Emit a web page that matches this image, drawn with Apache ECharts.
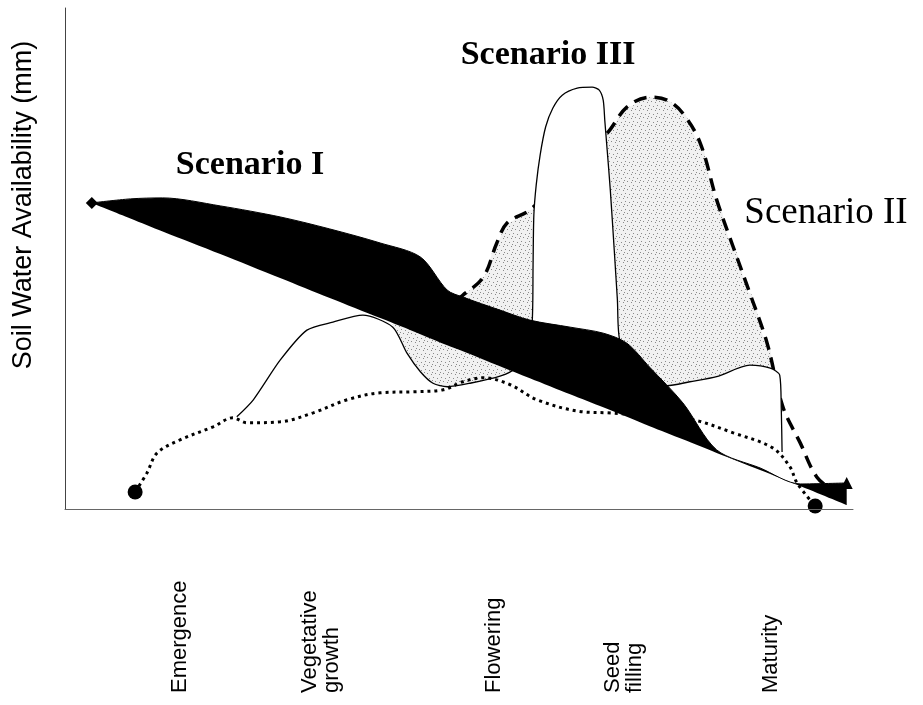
<!DOCTYPE html>
<html>
<head>
<meta charset="utf-8">
<script src="https://cdn.jsdelivr.net/npm/echarts@6/dist/echarts.min.js"></script>
</head>
<body style="margin:0;background:#fff">
<div id="main" style="width:923px;height:705px;"></div>
<script type="text/javascript">
    // stage labels under the x axis (position on the 0-100 time scale)
    var stageNames = ['Emergence', 'Vegetative\ngrowth', 'Flowering', 'Seed\nfilling', 'Maturity'];
    var stagePos = [14.6, 32.5, 54.4, 70.9, 89.6];

    // Scenario I: black band between a straight lower edge and a wavy upper edge
    var s1X = [3.4, 8.3, 12.4, 19.7, 27.3, 33.6, 40.0, 45.1, 48.5, 50.5, 55.2, 59.0, 64.1, 68.3, 71.3, 74.2, 78.4, 82.7, 88.2, 93.3, 99.2];
    var s1Lower = [61.1, 58.0, 55.4, 50.9, 46.1, 42.1, 38.1, 34.9, 32.7, 31.5, 28.5, 26.1, 22.9, 20.3, 18.4, 16.5, 13.9, 11.2, 7.8, 4.6, 0.8];
    var s1Upper = [61.1, 61.9, 62.1, 60.5, 58.3, 55.9, 53.1, 50.3, 43.7, 42.3, 39.7, 37.7, 36.3, 35.1, 33.1, 28.3, 21.2, 11.8, 8.2, 5.0, 5.2];

    // Scenario II: dashed curve
    var s2X = [41.6, 46.3, 49.5, 50.5, 53.1, 54.8, 56.1, 59.0, 62.8, 66.6, 68.8, 71.3, 74.2, 76.4, 78.4, 80.6, 82.7, 84.8, 86.9, 89.1, 91.1, 93.3, 95.4, 97.7];
    var s2Y = [40.7, 41.1, 41.7, 42.7, 46.3, 53.1, 57.1, 59.7, 65.7, 72.1, 75.0, 80.2, 82.2, 81.6, 79.0, 73.1, 61.7, 52.3, 43.1, 33.1, 20.4, 13.2, 6.4, 3.4];

    // shaded surplus of Scenario II (follows the dashed curve, stops where Scenario III drops)
    var shadeX = [41.6, 46.3, 49.5, 50.5, 53.1, 54.8, 56.1, 59.0, 62.8, 66.6, 68.8, 71.3, 74.2, 76.4, 78.4, 80.6, 82.7, 84.8, 86.9, 89.1, 90.4, 90.6];
    var shadeY = [40.7, 41.1, 41.7, 42.7, 46.3, 53.1, 57.1, 59.7, 65.7, 72.1, 75.0, 80.2, 82.2, 81.6, 79.0, 73.1, 61.7, 52.3, 43.1, 33.1, 27.0, 0];

    // Scenario III: thin solid curve with the tall peak
    var s3X = [21.8, 23.9, 27.3, 30.7, 34.0, 37.8, 41.6, 43.4, 45.1, 46.7, 48.5, 51.4, 55.2, 57.1, 58.5,
               59.3, 59.4, 59.5, 59.8, 60.3, 61.0, 61.9, 63.1, 65.0, 66.9, 67.8, 68.3, 68.5, 68.8, 69.2, 69.7, 70.1, 70.4,
               73.0, 76.4, 79.3, 82.7, 86.9, 89.5, 90.7, 90.9, 91.0];
    var s3Y = [18.4, 21.8, 29.7, 35.7, 37.3, 38.7, 36.3, 31.1, 27.4, 25.1, 24.4, 25.1, 26.5, 28.1, 32.7,
               37.7, 48.7, 58.7, 64.7, 70.7, 76.3, 80.0, 82.6, 84.0, 84.2, 83.6, 81.6, 77.6, 71.7, 63.7, 51.7, 41.7, 33.7,
               24.8, 24.6, 25.4, 26.4, 28.7, 28.1, 26.7, 19.8, 11.4];

    // Scenario IV: dotted curve
    var s4X = [8.9, 10.4, 11.7, 14.6, 18.8, 21.3, 23.1, 27.3, 31.5, 35.8, 40.0, 44.2, 48.0, 50.5, 53.1, 56.5, 59.9, 65.7, 68.8, 74.2, 79.7, 84.8, 89.8, 92.0, 92.9, 95.2];
    var s4Y = [3.4, 7.2, 11.2, 13.8, 16.4, 18.2, 17.2, 17.4, 19.2, 21.8, 23.2, 23.4, 23.8, 25.4, 26.2, 24.8, 21.8, 19.4, 19.2, 18.6, 17.8, 15.2, 12.2, 8.4, 5.2, 0.6];

    function pairs(xs, ys) {
        return xs.map(function (x, i) { return [x, ys[i]]; });
    }
    // y first so that stacking happens on the y dimension
    function pairsYX(xs, ys) {
        return xs.map(function (x, i) { return [ys[i], x]; });
    }
    var s1Band = s1Upper.map(function (v, i) { return +(v - s1Lower[i]).toFixed(2); });

    // stipple texture for the shaded area
    var pat = document.createElement('canvas');
    pat.width = 8; pat.height = 8;
    var g = pat.getContext('2d');
    g.fillStyle = '#f1f1f1';
    g.fillRect(0, 0, 8, 8);
    g.fillStyle = '#8a8a8a';
    [[1, 1], [5, 2], [3, 5], [7, 6], [0, 4]].forEach(function (p) { g.fillRect(p[0], p[1], 1, 1); });

    function endsOnly(first, last, n) {
        return function (v, p) {
            if (p.dataIndex === 0) return first;
            if (p.dataIndex === n - 1) return last;
            return 'none';
        };
    }

    var myChart = echarts.init(document.getElementById('main'));
    var option = {
        animation: false,
        grid: { left: 65, right: 70, top: 8, bottom: 196 },
        xAxis: {
            type: 'value', min: 0, max: 100, z: 10,
            axisLine: { show: true, lineStyle: { color: '#666', width: 1 } },
            axisTick: { show: false },
            splitLine: { show: false },
            axisLabel: {
                customValues: stagePos,
                rotate: 90,
                align: 'left',
                verticalAlign: 'middle',
                margin: 184,
                color: '#000',
                fontSize: 22,
                lineHeight: 22,
                fontFamily: 'Liberation Sans',
                formatter: function (v) {
                    var i = stagePos.indexOf(v);
                    return i < 0 ? '' : stageNames[i];
                }
            }
        },
        yAxis: {
            type: 'value', min: 0, max: 100, z: 10,
            axisLine: { show: true, lineStyle: { color: '#444', width: 1 } },
            axisTick: { show: false },
            axisLabel: { show: false },
            splitLine: { show: false }
        },
        graphic: [
            { type: 'text', x: 24, y: 205, rotation: Math.PI / 2,
              style: { text: 'Soil Water Availability (mm)', font: '27px "Liberation Sans"', fill: '#000', align: 'center', verticalAlign: 'middle' } },
            { type: 'text', x: 250, y: 165,
              style: { text: 'Scenario I', font: 'bold 34px "Liberation Serif"', fill: '#000', align: 'center', verticalAlign: 'middle' } },
            { type: 'text', x: 548, y: 55,
              style: { text: 'Scenario III', font: 'bold 34px "Liberation Serif"', fill: '#000', align: 'center', verticalAlign: 'middle' } },
            { type: 'text', x: 826, y: 213,
              style: { text: 'Scenario II', font: '37px "Liberation Serif"', fill: '#000', align: 'center', verticalAlign: 'middle' } },
            { type: 'text', x: 407, y: 457,
              style: { text: 'Scenario IV', font: '36px "Liberation Serif"', fill: '#000', align: 'center', verticalAlign: 'middle' } }
        ],
        series: [
            {
                name: 'shade', type: 'line', z: 1, smooth: 0.35, smoothMonotone: 'x',
                data: pairs(shadeX, shadeY), symbol: 'none',
                lineStyle: { width: 0, opacity: 0 },
                areaStyle: { color: { image: pat, repeat: 'repeat' }, opacity: 1 }
            },
            {
                name: 'Scenario II', type: 'line', z: 2, smooth: 0.35,
                data: pairs(s2X, s2Y), symbol: 'none',
                lineStyle: { color: '#000', width: 3.5, type: [13, 8] }
            },
            {
                name: 'Scenario III', type: 'line', z: 3, smooth: 0.25,
                data: pairs(s3X, s3Y), symbol: 'none',
                lineStyle: { color: '#000', width: 1.3 },
                areaStyle: { color: '#fff', opacity: 1 }
            },
            {
                name: 'Scenario IV', type: 'line', z: 5, smooth: 0.35,
                data: pairs(s4X, s4Y),
                symbol: endsOnly('circle', 'circle', s4X.length), symbolSize: 15,
                itemStyle: { color: '#000' },
                lineStyle: { color: '#000', width: 3, type: [3, 4] }
            },
            {
                name: 'I base', type: 'line', z: 6, stack: 'I', smooth: 0.3,
                data: pairsYX(s1X, s1Lower), encode: { x: 1, y: 0 }, symbol: 'none',
                lineStyle: { opacity: 0 }
            },
            {
                name: 'Scenario I', type: 'line', z: 6, stack: 'I', smooth: 0.3,
                data: pairsYX(s1X, s1Band), encode: { x: 1, y: 0 },
                symbol: endsOnly('diamond', 'triangle', s1X.length), symbolSize: 12,
                itemStyle: { color: '#000' },
                lineStyle: { color: '#000', width: 1 },
                areaStyle: { color: '#000', opacity: 1 }
            }
        ]
    };
    myChart.setOption(option);
</script>
</body>
</html>
